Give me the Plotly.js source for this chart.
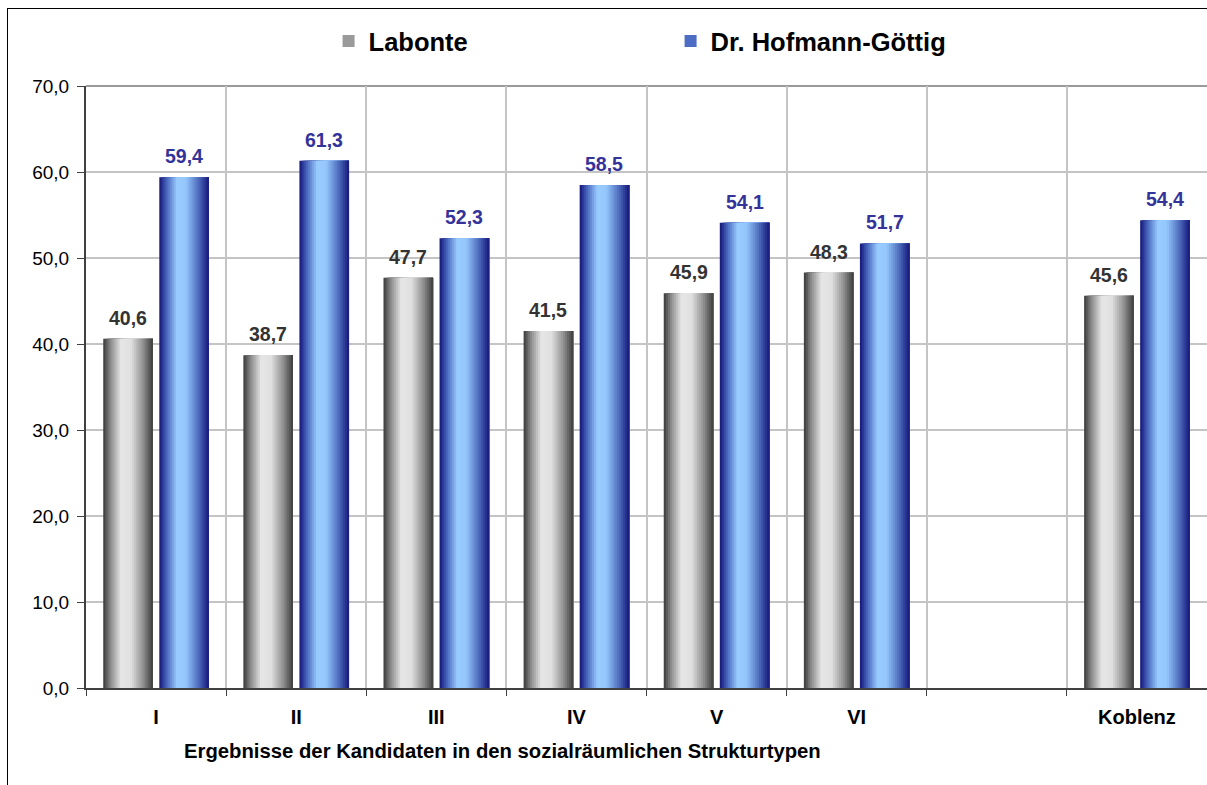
<!DOCTYPE html>
<html>
<head>
<meta charset="utf-8">
<script src="https://cdn.plot.ly/plotly-3.0.1.min.js"></script>
<style>
  html, body { margin: 0; padding: 0; background: #fff; overflow: hidden; }
  #chart { width: 1207px; height: 785px; }
  #frame { position: absolute; left: 7px; top: 8px; width: 1400px; height: 1000px;
           border-left: 1px solid #000; border-top: 1px solid #000; pointer-events: none; }
</style>
</head>
<body>
<div id="chart"></div>
<div id="frame"></div>
<script>
// ---- data ----
const categories = ["I", "II", "III", "IV", "V", "VI", " ", "Koblenz"];
const labonte = [40.6, 38.7, 47.7, 41.5, 45.9, 48.3, null, 45.6];
const hofmann = [59.4, 61.3, 52.3, 58.5, 54.1, 51.7, null, 54.4];
const seriesNames = ["Labonte", "Dr. Hofmann-Göttig"];
const xTitle = "Ergebnisse der Kandidaten in den sozialräumlichen Strukturtypen";

// ---- style ----
const FONT = "Liberation Sans, Arial, sans-serif";
const BAR_W = 0.354;           // bar width in category units
const CENTER = [-0.2, 0.2];    // bar centre offsets
const SLICES = 24;
const grayStops = [[0, [56,56,56]], [0.15, [140,140,140]], [0.36, [230,230,230]], [0.56, [224,224,224]], [0.8, [145,145,145]], [1, [60,60,60]]];
const blueStops = [[0, [20,20,120]], [0.15, [72,102,188]], [0.36, [153,204,255]], [0.54, [148,198,252]], [0.8, [76,104,186]], [1, [20,22,122]]];
const labelColors = ["#333333", "#333399"];
const legendColors = ["#9a9a9a", "#4d6cc4"];

function interp(stops, t) {
  for (let k = 0; k < stops.length - 1; k++) {
    const [t0, c0] = stops[k], [t1, c1] = stops[k + 1];
    if (t >= t0 && t <= t1) {
      const f = (t - t0) / (t1 - t0);
      const c = c0.map((v, j) => Math.round(v + (c1[j] - v) * f));
      return `rgb(${c[0]},${c[1]},${c[2]})`;
    }
  }
  const c = stops[stops.length - 1][1];
  return `rgb(${c[0]},${c[1]},${c[2]})`;
}

const traces = [];
[labonte, hofmann].forEach((vals, s) => {
  const stops = s === 0 ? grayStops : blueStops;
  const start = CENTER[s] - BAR_W / 2;
  const step = BAR_W / SLICES;
  for (let i = 0; i < SLICES; i++) {
    traces.push({
      type: "bar",
      x: categories,
      y: vals,
      name: seriesNames[s],
      offset: start + i * step,
      width: BAR_W - i * step,
      marker: { color: interp(stops, (i + 0.5) / SLICES), line: { width: 0 } },
      showlegend: false,
      hoverinfo: i === 0 ? "x+y+name" : "skip"
    });
  }
  // legend entry
  traces.push({
    type: "bar",
    x: [categories[0]],
    y: [null],
    name: seriesNames[s],
    marker: { color: legendColors[s] },
    showlegend: true,
    hoverinfo: "skip"
  });
});

const fmt = v => v.toFixed(1).replace(".", ",");
const annotations = [];
[labonte, hofmann].forEach((vals, s) => {
  vals.forEach((v, i) => {
    if (v === null) return;
    annotations.push({
      x: categories[i], y: v, xref: "x", yref: "y",
      xshift: CENTER[s] * 140, yshift: 8, yanchor: "bottom",
      text: "<b>" + fmt(v) + "</b>", showarrow: false,
      font: { family: FONT, size: 19.5, color: labelColors[s] }
    });
  });
});
annotations.push({
  x: (502 - 86) / 1121, y: -0.105, xref: "paper", yref: "paper",
  xanchor: "center", yanchor: "middle", showarrow: false,
  text: "<b>" + xTitle + "</b>",
  font: { family: FONT, size: 20.3, color: "#000" }
});

const layout = {
  width: 1207, height: 785,
  margin: { l: 86, r: 0, t: 86, b: 97, pad: 0 },
  paper_bgcolor: "#fff", plot_bgcolor: "#fff",
  separators: ",.",
  barmode: "overlay",
  font: { family: FONT, color: "#000" },
  showlegend: true,
  legend: {
    orientation: "h", x: 0.2164, xanchor: "left", y: 1.074, yanchor: "middle",
    entrywidth: 297, entrywidthmode: "pixels",
    font: { family: FONT, size: 25.5, color: "#000", weight: "bold" },
    bgcolor: "rgba(0,0,0,0)"
  },
  xaxis: {
    type: "category", categoryorder: "array", categoryarray: categories,
    range: [-0.5, 7.5],
    tickson: "boundaries", ticks: "outside", ticklen: 6, tickwidth: 1, tickcolor: "#404040",
    showgrid: true, gridcolor: "#c4c4c4", gridwidth: 2,
    showline: true, linecolor: "#404040", linewidth: 2,
    tickfont: { family: FONT, size: 20, color: "#000", weight: "bold" },
    ticklabelstandoff: 10,
    zeroline: false, fixedrange: true
  },
  yaxis: {
    range: [0, 70], dtick: 10, tick0: 0, tickformat: ".1f",
    ticks: "outside", ticklen: 7, tickwidth: 1, tickcolor: "#404040",
    showgrid: true, gridcolor: "#c4c4c4", gridwidth: 2,
    showline: true, linecolor: "#404040", linewidth: 2,
    tickfont: { family: FONT, size: 19, color: "#000" },
    ticklabelstandoff: 4,
    zeroline: false, fixedrange: true
  },
  shapes: [
    { type: "line", xref: "paper", yref: "paper", x0: 0, x1: 1, y0: 1, y1: 1,
      line: { color: "#9a9a9a", width: 2 }, layer: "below" }
  ],
  annotations: annotations
};

Plotly.newPlot("chart", traces, layout, { displayModeBar: false, staticPlot: false });
</script>
</body>
</html>
